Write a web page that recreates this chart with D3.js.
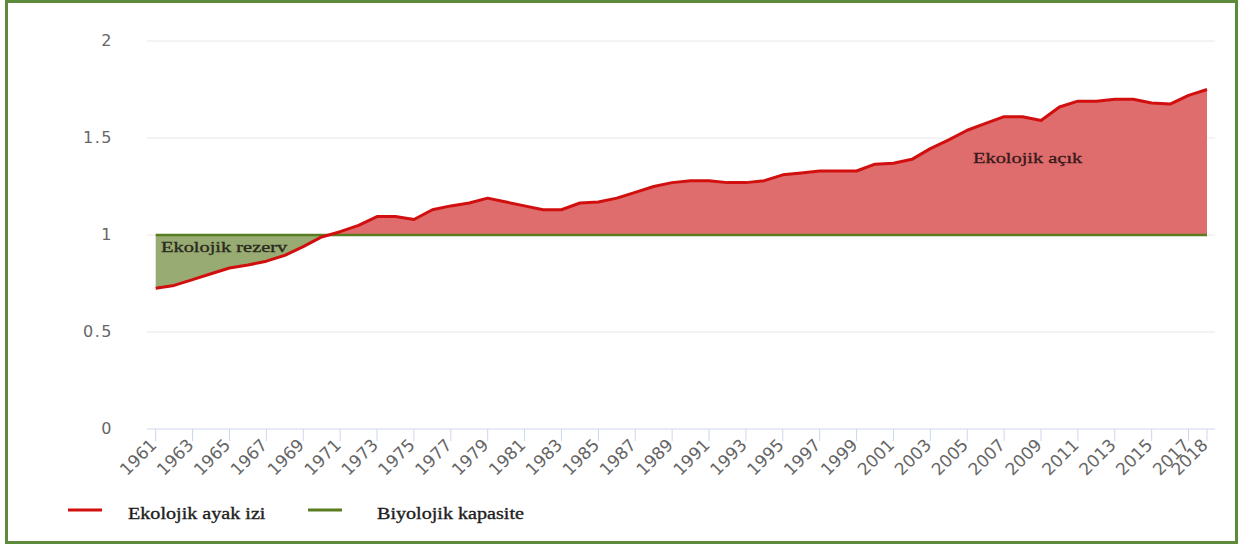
<!DOCTYPE html>
<html>
<head>
<meta charset="utf-8">
<script src="https://cdn.jsdelivr.net/npm/d3@7"></script>
<style>
  body { margin: 0; background: #fff; }
  svg { display: block; }
</style>
</head>
<body>
<svg id="chart" width="1244" height="546"></svg>
<script>
// years 1961..2018
var years = d3.range(1961, 2019);
// ecological footprint (per person)
var footprint = [
  0.725, 0.74, 0.77, 0.80, 0.83, 0.845, 0.865, 0.895, 0.94, 0.99,
  1.017, 1.05, 1.095, 1.095, 1.08, 1.13, 1.15, 1.165, 1.19, 1.17,
  1.15, 1.13, 1.13, 1.165, 1.17, 1.19, 1.22, 1.25, 1.27, 1.28,
  1.28, 1.27, 1.27, 1.28, 1.31, 1.32, 1.33, 1.33, 1.33, 1.365,
  1.37, 1.39, 1.445, 1.49, 1.54, 1.575, 1.61, 1.61, 1.59, 1.66,
  1.69, 1.69, 1.70, 1.70, 1.68, 1.675, 1.72, 1.75
];
// biocapacity, flat
var biocap = years.map(function() { return 1; });
var yTicks = [0, 0.5, 1, 1.5, 2];
var xTicks = d3.range(1961, 2018, 2).concat([2018]);
var legendNames = ['Ekolojik ayak izi', 'Biyolojik kapasite'];
var areaNames = ['Ekolojik rezerv', 'Ekolojik açık'];

var data = years.map(function(yr, i) { return {yr: yr, f: footprint[i], b: biocap[i]}; });

var svg = d3.select('#chart');

var x = d3.scaleLinear().domain([1961, 2018]).range([155.7, 1207]);
var y = d3.scaleLinear().domain([0, 2]).range([429, 41]);

var gridL = 147, gridR = 1215;
var serif = 'Liberation Serif, Times New Roman, serif';

// frame
svg.append('rect')
  .attr('x', 6.5).attr('y', 1.5)
  .attr('width', 1230).attr('height', 541)
  .attr('fill', 'none')
  .attr('stroke', '#5b8b3b')
  .attr('stroke-width', 3);

// grid lines
svg.append('g').selectAll('line')
  .data(yTicks.filter(function(d) { return d > 0; }))
  .enter().append('line')
  .attr('x1', gridL).attr('x2', gridR)
  .attr('y1', function(d) { return y(d); })
  .attr('y2', function(d) { return y(d); })
  .attr('stroke', '#e8e8e8')
  .attr('stroke-width', 1);

// y labels
svg.append('g').selectAll('text')
  .data(yTicks)
  .enter().append('text')
  .attr('x', 113)
  .attr('y', function(d) { return y(d) + 5; })
  .attr('text-anchor', 'end')
  .attr('font-family', 'DejaVu Sans, Verdana, sans-serif')
  .attr('font-size', 16)
  .attr('letter-spacing', 1.5)
  .attr('fill', '#666')
  .text(function(d) { return String(d); });

// areas, split with clip paths at biocapacity line
var defs = svg.append('defs');
defs.append('clipPath').attr('id', 'above')
  .append('rect').attr('x', 0).attr('y', 0).attr('width', 1244).attr('height', y(1));
defs.append('clipPath').attr('id', 'below')
  .append('rect').attr('x', 0).attr('y', y(1)).attr('width', 1244).attr('height', 546);

var area = d3.area()
  .x(function(d) { return x(d.yr); })
  .y0(function(d) { return y(d.b); })
  .y1(function(d) { return y(d.f); });

svg.append('path').datum(data)
  .attr('d', area)
  .attr('fill', '#e06d6d')
  .attr('clip-path', 'url(#above)');
svg.append('path').datum(data)
  .attr('d', area)
  .attr('fill', '#98ab72')
  .attr('clip-path', 'url(#below)');

// x axis
var xAxis = svg.append('g');
xAxis.append('line')
  .attr('x1', gridL).attr('x2', gridR)
  .attr('y1', y(0)).attr('y2', y(0))
  .attr('stroke', '#ccd6eb').attr('stroke-width', 1);
xAxis.selectAll('line.tick')
  .data(xTicks)
  .enter().append('line')
  .attr('class', 'tick')
  .attr('x1', function(d) { return x(d); })
  .attr('x2', function(d) { return x(d); })
  .attr('y1', y(0)).attr('y2', y(0) + 12)
  .attr('stroke', '#ccd6eb').attr('stroke-width', 1);
xAxis.selectAll('text')
  .data(xTicks)
  .enter().append('text')
  .attr('transform', function(d) { return 'translate(' + (x(d) + 2) + ',' + (y(0) + 17) + ') rotate(-45)'; })
  .attr('text-anchor', 'end')
  .attr('font-family', 'DejaVu Sans, Verdana, sans-serif')
  .attr('font-size', 17)
  .attr('fill', '#666')
  .text(function(d) { return d; });

// lines
var lineF = d3.line().x(function(d) { return x(d.yr); }).y(function(d) { return y(d.f); });
var lineB = d3.line().x(function(d) { return x(d.yr); }).y(function(d) { return y(d.b); });

svg.append('path').datum(data)
  .attr('d', lineB)
  .attr('fill', 'none')
  .attr('stroke', '#5a7d22')
  .attr('stroke-width', 2.5);
svg.append('path').datum(data)
  .attr('d', lineF)
  .attr('fill', 'none')
  .attr('stroke', '#d20f0f')
  .attr('stroke-width', 3)
  .attr('stroke-linejoin', 'round');

// area labels (picture is stretched sideways, so the text is too)
function stretchedText(g, tx, ty, size, sx, color, str) {
  g.append('text')
    .attr('transform', 'translate(' + tx + ',' + ty + ') scale(' + sx + ',1)')
    .attr('font-family', serif)
    .attr('font-size', size)
    .attr('fill', color)
    .attr('stroke', color)
    .attr('stroke-width', 0.35)
    .text(str);
}
stretchedText(svg, 161, 252, 15, 1.36, '#2a2a1e', areaNames[0]);
stretchedText(svg, 973, 163, 15, 1.36, '#3a1a1a', areaNames[1]);

// legend
var legend = svg.append('g');
var legendItems = [
  {name: legendNames[0], color: '#d20f0f', x1: 68, tx: 128},
  {name: legendNames[1], color: '#5a7d22', x1: 308, tx: 377}
];
legendItems.forEach(function(it) {
  legend.append('line')
    .attr('x1', it.x1).attr('x2', it.x1 + 34)
    .attr('y1', 510).attr('y2', 510)
    .attr('stroke', it.color).attr('stroke-width', 3);
  stretchedText(legend, it.tx, 519, 16.5, 1.22, '#1e1e1e', it.name);
});
</script>
</body>
</html>
